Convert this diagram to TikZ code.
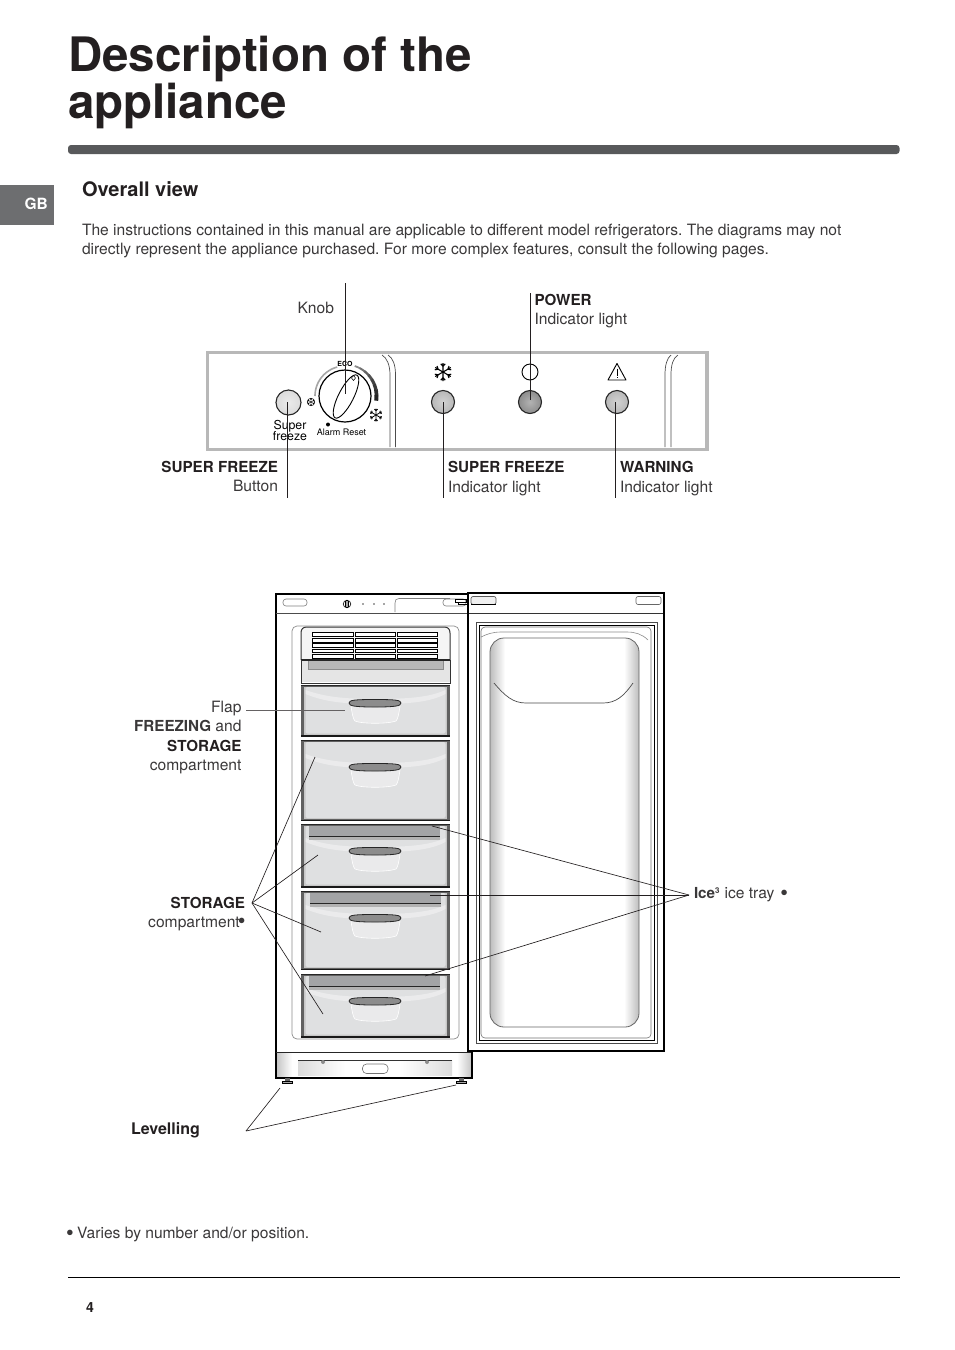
\documentclass[tikz,border=0pt]{standalone}
\usepackage{fontspec}
\setmainfont{TeX Gyre Heros}
\frenchspacing
\definecolor{ink}{HTML}{231F20}
\definecolor{bodyc}{HTML}{3A3839}
\definecolor{barc}{HTML}{58595B}
\definecolor{tabc}{HTML}{6D6E70}
\definecolor{panelc}{HTML}{B8B8B8}
\definecolor{drawc}{HTML}{DFE0E1}
\definecolor{stripc}{HTML}{A3A4A6}
\pgfdeclareradialshading{lampA}{\pgfpointorigin}{color(0bp)=(black!8); color(25bp)=(black!14); color(50bp)=(black!45)}
\pgfdeclareradialshading{lampB}{\pgfpointorigin}{color(0bp)=(black!18); color(25bp)=(black!28); color(50bp)=(black!60)}
\pgfdeclareradialshading{lampC}{\pgfpointorigin}{color(0bp)=(black!30); color(25bp)=(black!45); color(50bp)=(black!78)}
\pgfdeclareradialshading{knobS}{\pgfpointorigin}{color(0bp)=(white); color(35bp)=(white); color(50bp)=(black!18)}
\tikzset{
 txt/.style={inner sep=0pt,outer sep=0pt,anchor=base west,text=bodyc,font=\fontsize{15.6}{18}\selectfont},
 txtr/.style={txt,anchor=base east},
 hbold/.style={font=\fontsize{15.2}{18}\selectfont\bfseries,text=ink},
 lead/.style={draw=ink,line width=0.65pt},
 leadg/.style={draw=ink!70,line width=0.5pt},
 thick1/.style={draw=black,line width=2pt},
 lamp/.style={circle,minimum size=23pt,inner sep=0pt,draw=black!85,line width=1.1pt,shading=#1},
 mini/.style={inner sep=0pt,outer sep=0pt,text=black},
}
\newcommand{\snow}[3]{% x y r
 \foreach \a in {30,90,150,210,270,330}{
  \draw[black,line width=#3*0.12pt] (#1,#2) -- ++(\a:#3)
    (#1,#2) ++(\a:#3*0.62) -- ++(\a+40:#3*0.38)
    (#1,#2) ++(\a:#3*0.62) -- ++(\a-40:#3*0.38);}}
\newcommand{\bigdot}[2]{\raisebox{#2}{\fontsize{#1}{#1}\selectfont•}}
\newcommand{\drawerbox}[4]{% top bottom handle-y strip-x-left
 \fill[black!62] (301,#1) rectangle (450,#2);
 \fill[black!22] (304,#1+1) rectangle (447,#2-1.5);
 \fill[drawc,rounded corners=2pt] (305.5,#1+1) rectangle (445.5,#2-2.5);
 \fill[white,opacity=.38] (305.5,#3-9) .. controls (325,#3-1) and (345,#3+1) .. (375,#3+1) .. controls (410,#3+1) and (430,#3-1) .. (445.5,#3-9) -- (445.5,#3-13) .. controls (430,#3-6) and (410,#3-4) .. (375,#3-4) .. controls (345,#3-4) and (325,#3-6) .. (305.5,#3-13) -- cycle;
 \draw[black!90,line width=1.1pt] (301,#2) -- (450,#2);
 \draw[white,line width=.6pt,fill=white,fill opacity=.35] (351,#3+3) .. controls (352,#3+10) and (353,#3+16) .. (355,#3+18) .. controls (362,#3+21) and (388,#3+21) .. (396,#3+18) .. controls (398,#3+16) and (399,#3+10) .. (400,#3+3);
 \draw[black!85,line width=.8pt,fill=black!45] (349,#3) .. controls (349,#3-3) and (355,#3-3.5) .. (375,#3-3.5) .. controls (395,#3-3.5) and (401,#3-3) .. (401,#3) .. controls (401,#3+3) and (395,#3+4) .. (375,#3+4) .. controls (355,#3+4) and (349,#3+3) .. (349,#3) -- cycle;
 \ifx#4\empty\else
 \fill[black!30] (#4,#1+1) rectangle (#4+131,#1+15);
 \fill[stripc] (#4,#1+1) rectangle (#4+131,#1+11);
 \draw[black!85,line width=.7pt] (#4,#1+11) -- (#4+131,#1+11);
 \fi
}
\begin{document}
\begin{tikzpicture}[x=1pt,y=-1pt]
\useasboundingbox (0,0) rectangle (954,1350);
% header
\node[txt,text=ink,font=\fontsize{47.5}{50}\selectfont\bfseries] (title1) at (68,71) {Description of the};
\node[txt,text=ink,font=\fontsize{47.5}{50}\selectfont\bfseries] (title2) at (68,118) {appliance};
\fill[barc,rounded corners=3pt] (68,145) rectangle (899.5,154);
\fill[tabc] (0,185) rectangle (54,225);
\node[txt,text=white,font=\fontsize{15.5}{18}\selectfont\bfseries] (gb) at (24.5,209.5) {GB};
\node[txt,text=ink,font=\fontsize{20}{22}\selectfont\bfseries] (overall) at (82,196.5) {Overall view};
\node[txt] (p1) at (82,235) {The instructions contained in this manual are applicable to different model refrigerators. The diagrams may not};
\node[txt] (p2) at (82,254) {directly represent the appliance purchased. For more complex features, consult the following pages.};
% panel
\draw[panelc,line width=3.4pt] (207.5,352.5) rectangle (707,449.5);
\draw[black!70,line width=.7pt] (382,355) .. controls (387,358) and (390,365) .. (390,375) -- (390,447);
\draw[black!70,line width=.7pt] (388,355) .. controls (393,358) and (395.5,365) .. (395.5,375) -- (395.5,447);
\draw[black!70,line width=.7pt] (665,447) -- (665,375) .. controls (665,365) and (667,358) .. (671,355);
\draw[black!70,line width=.7pt] (671,447) -- (671,375) .. controls (671,365) and (673,358) .. (678,355);
% knob
\draw[black!35,line width=1.6pt] plot[domain=180:105,samples=30] ({345+30*cos(\x)},{396-30*sin(\x)});
\foreach \a/\c/\w in {72/45/1.8,62/55/2,52/62/2.4,42/68/2.8,32/74/3.1,22/78/3.4,12/82/3.7,2/86/4}{
 \draw[black!\c,line width=\w pt] plot[domain=\a:\a-10.5,samples=6] ({345+31.5*cos(\x)},{396-31.5*sin(\x)});}
\node[mini,font=\bfseries\fontsize{7}{7}\selectfont] (eco) at (345,363.8) {ECO};
\node[circle,minimum size=52pt,inner sep=0pt,draw=black,line width=1.2pt,shading=knobS] (knob) at (345,396) {};
\draw[black,line width=.9pt,fill=white,rotate around={63:(346,396.5)}] (346,396.5) ellipse[x radius=24,y radius=7.5];
\draw[black,line width=.5pt,fill=white] (353.5,375.5) -- (355.5,378) -- (353.5,380.5) -- (351.5,378) -- cycle;
\snow{376}{415}{6.5}
\snow{311}{402}{3.6}
\draw[black,line width=.5pt] (311,402) circle[radius=3.8];
\fill[black] (328,424.5) circle[radius=2];
\node[mini,font=\fontsize{9}{10}\selectfont] (alarm) at (341.5,432) {Alarm Reset};
\node[mini,font=\fontsize{12.3}{12.3}\selectfont,align=center] (sup) at (290,430.5) {Super\\[-1pt]freeze};
\node[lamp=lampA,minimum size=25pt] (btn) at (288.5,402.5) {};
\node[lamp=lampB] (l1) at (443,402) {};
\node[lamp=lampC] (l2) at (530,402) {};
\node[lamp=lampB] (l3) at (617,402) {};
\snow{443}{372}{9}
\node[circle,minimum size=16pt,inner sep=0pt,draw=black,line width=.9pt] (pw) at (530,372) {};
\draw[black,line width=.9pt,line join=round] (617,363.5) -- (626,380) -- (608,380) -- cycle;
\draw[black,line width=1pt] (617,368.5) -- (617,375.5) (617,376.8) -- (617,378);
% panel leaders
\coordinate (k0) at (345,283); \coordinate (k1) at (345,394);
\coordinate (p0) at (530,293); \coordinate (p1e) at (530,400);
\coordinate (b0) at (287.5,402); \coordinate (b1) at (287.5,498);
\coordinate (s0) at (443,402); \coordinate (s1) at (443,498);
\coordinate (w0) at (615.5,402); \coordinate (w1) at (615.5,498);
\draw[lead] (k0)--(k1); \draw[lead] (p0)--(p1e); \draw[lead] (b0)--(b1); \draw[lead] (s0)--(s1); \draw[lead] (w0)--(w1);
\node[txtr] (tknob) at (334,313) {Knob};
\node[txt,hbold] (tpow) at (534.5,305) {POWER};
\node[txt] (tpow2) at (534.5,324) {Indicator light};
\node[txtr,hbold] (tsf) at (278,472) {SUPER FREEZE};
\node[txtr] (tsf2) at (278,491) {Button};
\node[txt,hbold] (tsi) at (448,472) {SUPER FREEZE};
\node[txt] (tsi2) at (448,492) {Indicator light};
\node[txt,hbold] (twa) at (620,472) {WARNING};
\node[txt] (twa2) at (620,492) {Indicator light};
% cabinet
\fill[white] (276,594) rectangle (468,1052);
\draw[black!45,line width=.7pt,rounded corners=5pt] (292,626) rectangle (459,1039);
\draw[thick1] (276,594) -- (276,1078);
\draw[thick1] (275,594) -- (468,594);
\draw[black!70,line width=.8pt] (276,613) -- (468,613);
\draw[black!50,line width=.6pt,rounded corners=3pt] (283,599) rectangle (307,606);
\draw[black!50,line width=.6pt] (395,612) -- (395,603) .. controls (395,600) and (396,598.5) .. (399,598.5) -- (450,598.5);
\draw[black!50,line width=.6pt,rounded corners=3pt] (443,599) rectangle (466,606);
\draw[black,line width=.6pt] (455,599.5) rectangle (466,602) (458,602) rectangle (467,604.5);
\draw[black,line width=.6pt] (347,604) circle[radius=3.8] (347,600.5) -- (347,607.5) (345.5,601) -- (345.5,607) (348.5,601) -- (348.5,607);
\foreach \x in {363,374,384}{\fill[black!70] (\x,604) circle[radius=.8];}
% grille
\fill[black!4] (301,660) -- (301,633) .. controls (301,629) and (303,627) .. (307,627) -- (444,627) .. controls (448,627) and (450,629) .. (450,633) -- (450,660) -- cycle;
\draw[black!80,line width=1pt] (301,660) -- (301,633) .. controls (301,629) and (303,627) .. (307,627) -- (444,627) .. controls (448,627) and (450,629) .. (450,633) -- (450,660);
\foreach \xa/\xb in {312/353,355/395,397/437}{
 \foreach \ya/\yb in {632/636,638/642,643.5/647.5,649/652.5,654/658}{
  \draw[black,line width=.7pt,fill=white] (\xa,\ya) rectangle (\xb,\yb);}}
\fill[black!10] (301,660) rectangle (450,682);
\fill[black!28] (308,661) rectangle (443,669);
\draw[black!45,line width=.5pt] (308,661) -- (308,669) -- (443,669) -- (443,661);
\draw[black!85,line width=1.4pt] (301,660) -- (450,660);
\draw[black!80,line width=1pt] (301,660) -- (301,683) -- (450,683) -- (450,660);
% drawers
\drawerbox{686}{736}{703}{\empty}
\drawerbox{741}{820.5}{767}{\empty}
\drawerbox{825}{887}{851}{309}
\drawerbox{892}{969.5}{918}{310}
\drawerbox{975}{1037}{1001}{309}
\draw[black!85,line width=.9pt] (301,685.5) -- (450,685.5) (301,740.5) -- (450,740.5) (301,824.5) -- (450,824.5) (301,891.5) -- (450,891.5) (301,974.5) -- (450,974.5);
% plinth
\shade[left color=black!22,right color=white] (277,1053) rectangle (292,1076);
\shade[left color=white,right color=black!22] (457,1053) rectangle (471,1076);
\shade[left color=black!14,right color=white] (298,1060) rectangle (345,1075);
\shade[left color=white,right color=black!14] (400,1060) rectangle (452,1075);
\draw[black!85,line width=.9pt] (276,1052.5) -- (472,1052.5);
\draw[black!80,line width=.7pt] (298,1060) -- (452,1060);
\draw[thick1] (472,1052) -- (472,1078) -- (275,1078);
\draw[black!55,line width=.6pt,fill=white,rounded corners=4pt] (362.5,1064) rectangle (388,1073.5);
\fill[black!45] (323,1062) circle[radius=2] (427,1062) circle[radius=2];
% feet
\foreach \x in {287.5,461.5}{
 \fill[black!60] (\x-2.5,1078) rectangle (\x+2.5,1081);
 \draw[black,line width=.7pt,fill=black!35] (\x-5,1081) rectangle (\x+5,1083.8);}
% door
\fill[white] (468,593) rectangle (664,1051);
\draw[black!80,line width=.8pt] (468,613) -- (664,613);
\draw[black!65,line width=.7pt,fill=black!6,rounded corners=2pt] (471,596.5) rectangle (496,604.5);
\draw[black,line width=.9pt] (471,604.5) -- (496,604.5);
\draw[black!60,line width=.6pt,rounded corners=2pt] (636,596.5) rectangle (661,604.5);
\draw[black!70,line width=.7pt] (476,622) rectangle (657,1043);
\draw[black,line width=.9pt] (479,625) rectangle (654,1040);
\draw[black!55,line width=.6pt,rounded corners=4pt] (481,627) rectangle (651,1038);
\draw[black!45,line width=.6pt] (481,637) .. controls (487,634) and (493,632) .. (501,632) -- (627,632) .. controls (635,632) and (642,634) .. (648,640);
\begin{scope}
\clip[rounded corners=14pt] (490,638) rectangle (639,1027);
\shade[left color=black!26,right color=white] (490,638) rectangle (505,1027);
\shade[left color=white,right color=black!26] (624,638) rectangle (639,1027);
\end{scope}
\draw[black!60,line width=.8pt,rounded corners=14pt] (490,638) rectangle (639,1027);
\draw[black!70,line width=.7pt] (494,683) .. controls (505,696) and (513,703) .. (526,703) -- (603,703) .. controls (616,703) and (624,696) .. (633,683);
\draw[thick1] (468,593) rectangle (664,1051);
% leaders fridge
\coordinate (flapA) at (246,710); \coordinate (flapB) at (345,710);
\draw[leadg] (flapA)--(flapB);
\coordinate (stA) at (252,903);
\coordinate (st1) at (315,757);
\coordinate (st2) at (318,855);
\coordinate (st3) at (321,932);
\coordinate (st4) at (323,1014);
\draw[lead] (stA)--(st1);
\draw[lead] (stA)--(st2);
\draw[lead] (stA)--(st3);
\draw[lead] (stA)--(st4);
\coordinate (icA) at (689,895);
\coordinate (ic1) at (432,826);
\coordinate (ic2) at (430,895);
\coordinate (ic3) at (425,976);
\draw[lead] (icA)--(ic1);
\draw[lead] (icA)--(ic2);
\draw[lead] (icA)--(ic3);
\coordinate (lvA) at (246,1131);\coordinate (lv1) at (280,1088);\coordinate (lv2) at (456,1085);
\draw[lead] (lvA)--(lv1); \draw[lead] (lvA)--(lv2);
% fridge text
\node[txtr] (tflap) at (241.5,712) {Flap};
\node[txtr] (tfz) at (241.5,731) {{\fontsize{15.2}{18}\selectfont\bfseries FREEZING} and};
\node[txtr,hbold] (tsto) at (241.5,751) {STORAGE};
\node[txtr] (tcmp) at (241.5,770) {compartment};
\node[txtr,hbold] (tsto2) at (245,908) {STORAGE};
\node[txtr] (tcmp2) at (245.5,927) {compartment\hspace{-2pt}\bigdot{22}{-1pt}\hspace{-2pt}};
\node[txt] (tice) at (694,898) {{\fontsize{15.2}{18}\selectfont\bfseries Ice}\raisebox{4.5pt}{\fontsize{8}{8}\selectfont\bfseries 3}\hspace{.7pt} ice tray\hspace{1.5pt} \bigdot{22}{-2pt}};
\node[txt,hbold,font=\fontsize{16}{18}\selectfont\bfseries] (tlev) at (131,1134) {Levelling};
\node[txt] (tfoot) at (66,1238) {\bigdot{22}{-2pt}\hspace{3.5pt}Varies by number and/or position.};
\draw[black,line width=.8pt] (68,1277) -- (899.5,1277);
\node[txt,text=ink,font=\fontsize{14}{15}\selectfont\bfseries] (pgn) at (86,1312) {4};
\end{tikzpicture}
\end{document}
